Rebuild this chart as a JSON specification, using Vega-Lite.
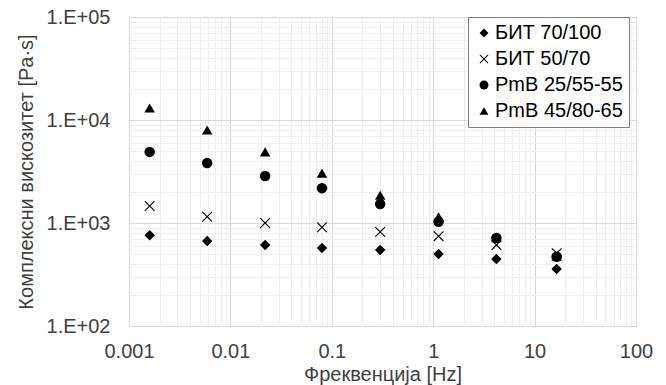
{
  "$schema": "https://vega.github.io/schema/vega-lite/v6.json",
  "width": 507,
  "height": 309,
  "autosize": {"type": "none"},
  "padding": {"left": 129, "top": 17, "right": 30, "bottom": 59},
  "background": "white",
  "config": {
    "font": "Liberation Sans",
    "view": {"stroke": "#d9d9d9"}
  },
  "data": {
    "values": [
      {"f": 0.0016, "v": 760, "s": "БИТ 70/100"},
      {"f": 0.0059, "v": 670, "s": "БИТ 70/100"},
      {"f": 0.022, "v": 610, "s": "БИТ 70/100"},
      {"f": 0.08, "v": 571, "s": "БИТ 70/100"},
      {"f": 0.3, "v": 547, "s": "БИТ 70/100"},
      {"f": 1.13, "v": 500, "s": "БИТ 70/100"},
      {"f": 4.2, "v": 446, "s": "БИТ 70/100"},
      {"f": 16.5, "v": 357, "s": "БИТ 70/100"},
      {"f": 0.0016, "v": 1460, "s": "БИТ 50/70"},
      {"f": 0.0059, "v": 1150, "s": "БИТ 50/70"},
      {"f": 0.022, "v": 1000, "s": "БИТ 50/70"},
      {"f": 0.08, "v": 910, "s": "БИТ 50/70"},
      {"f": 0.3, "v": 820, "s": "БИТ 50/70"},
      {"f": 1.13, "v": 745, "s": "БИТ 50/70"},
      {"f": 4.2, "v": 610, "s": "БИТ 50/70"},
      {"f": 16.5, "v": 510, "s": "БИТ 50/70"},
      {"f": 0.0016, "v": 4900, "s": "PmB 25/55-55"},
      {"f": 0.0059, "v": 3830, "s": "PmB 25/55-55"},
      {"f": 0.022, "v": 2860, "s": "PmB 25/55-55"},
      {"f": 0.08, "v": 2180, "s": "PmB 25/55-55"},
      {"f": 0.3, "v": 1530, "s": "PmB 25/55-55"},
      {"f": 1.13, "v": 1030, "s": "PmB 25/55-55"},
      {"f": 4.2, "v": 715, "s": "PmB 25/55-55"},
      {"f": 16.5, "v": 470, "s": "PmB 25/55-55"},
      {"f": 0.0016, "v": 13100, "s": "PmB 45/80-65"},
      {"f": 0.0059, "v": 8000, "s": "PmB 45/80-65"},
      {"f": 0.022, "v": 4900, "s": "PmB 45/80-65"},
      {"f": 0.08, "v": 3050, "s": "PmB 45/80-65"},
      {"f": 0.3, "v": 1860, "s": "PmB 45/80-65"},
      {"f": 1.13, "v": 1150, "s": "PmB 45/80-65"},
      {"f": 4.2, "v": 720, "s": "PmB 45/80-65"},
      {"f": 16.5, "v": 475, "s": "PmB 45/80-65"}
    ]
  },
  "mark": {"type": "point", "filled": true, "opacity": 1, "size": 110},
  "encoding": {
    "x": {
      "field": "f",
      "type": "quantitative",
      "scale": {"type": "log", "domain": [0.001, 100], "nice": false},
      "axis": {
        "title": "Фреквенција [Hz]",
        "values": [0.001,0.002,0.003,0.004,0.005,0.006,0.007,0.008,0.009,0.01,0.02,0.03,0.04,0.05,0.06,0.07,0.08,0.09,0.1,0.2,0.3,0.4,0.5,0.6,0.7,0.8,0.9,1,2,3,4,5,6,7,8,9,10,20,30,40,50,60,70,80,90,100],
        "labelExpr": "abs(log(datum.value)/LN10 - round(log(datum.value)/LN10)) < 0.001 ? format(datum.value, '~g') : ''",
        "grid": true,
        "gridColor": {"condition": {"test": "abs(log(datum.value)/LN10 - round(log(datum.value)/LN10)) < 0.001", "value": "#d9d9d9"}, "value": "#eeeeee"},
        "ticks": false,
        "domain": false,
        "labelFontSize": 20,
        "labelColor": "#404040",
        "labelPadding": 15,
        "labelFlush": false,
        "labelOverlap": false,
        "titleFontSize": 20,
        "titleFontWeight": "normal",
        "titleColor": "#404040",
        "titlePadding": 3
      }
    },
    "y": {
      "field": "v",
      "type": "quantitative",
      "scale": {"type": "log", "domain": [100, 100000], "nice": false},
      "axis": {
        "title": "Комплексни вискозитет [Pa·s]",
        "values": [100,200,300,400,500,600,700,800,900,1000,2000,3000,4000,5000,6000,7000,8000,9000,10000,20000,30000,40000,50000,60000,70000,80000,90000,100000],
        "labelExpr": "abs(log(datum.value)/LN10 - round(log(datum.value)/LN10)) < 0.001 ? '1.E+0' + round(log(datum.value)/LN10) : ''",
        "grid": true,
        "gridColor": {"condition": {"test": "abs(log(datum.value)/LN10 - round(log(datum.value)/LN10)) < 0.001", "value": "#d9d9d9"}, "value": "#eeeeee"},
        "ticks": false,
        "domain": false,
        "labelFontSize": 20,
        "labelColor": "#404040",
        "labelPadding": 19,
        "labelFlush": false,
        "labelOverlap": false,
        "titleFontSize": 20,
        "titleFontWeight": "normal",
        "titleColor": "#404040",
        "titlePadding": 10
      }
    },
    "shape": {
      "field": "s",
      "type": "nominal",
      "sort": null,
      "scale": {
        "domain": ["БИТ 70/100", "БИТ 50/70", "PmB 25/55-55", "PmB 45/80-65"],
        "range": ["diamond", "M-1,-0.85L-0.85,-1L0,-0.15L0.85,-1L1,-0.85L0.15,0L1,0.85L0.85,1L0,0.15L-0.85,1L-1,0.85L-0.15,0Z", "circle", "triangle-up"]
      },
      "legend": {
        "title": null,
        "orient": "none",
        "legendX": 339,
        "legendY": 0,
        "strokeColor": "#7f7f7f",
        "fillColor": "white",
        "padding": 6,
        "labelFontSize": 20,
        "labelColor": "#000000",
        "symbolSize": 80,
        "symbolFillColor": "black",
        "symbolStrokeColor": "black",
        "symbolStrokeWidth": 0,
        "rowPadding": 6,
        "labelOffset": 1
      }
    },
    "color": {"value": "black"}
  }
}
